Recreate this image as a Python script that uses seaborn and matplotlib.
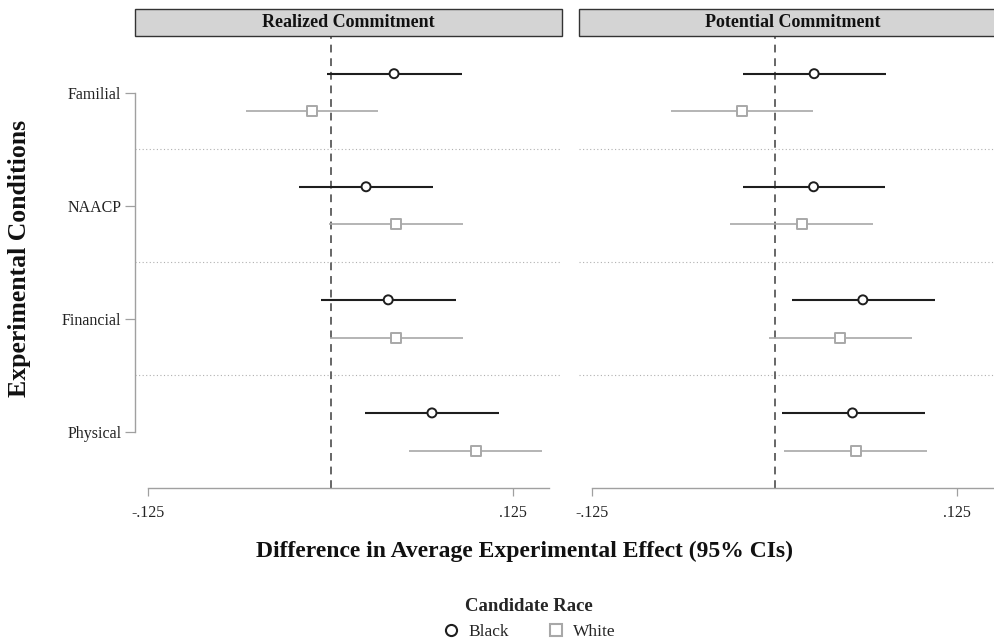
import matplotlib
matplotlib.use("Agg")
import matplotlib.pyplot as plt
import matplotlib.patches as mpatches
from matplotlib.lines import Line2D
from matplotlib.collections import PathCollection
import seaborn as sns
import pandas as pd
import numpy as np

# ---------------- data ----------------
conditions = ["Familial", "NAACP", "Financial", "Physical"]
panels = ["Realized Commitment", "Potential Commitment"]
races = ["Black", "White"]

realized_black_est = [0.0435, 0.0243, 0.0395, 0.0695]
realized_black_lo = [-0.0025, -0.0215, -0.0064, 0.0238]
realized_black_hi = [0.0898, 0.0699, 0.0857, 0.1156]
realized_white_est = [-0.0127, 0.0448, 0.0448, 0.0994]
realized_white_lo = [-0.0583, -0.0009, -0.0002, 0.0539]
realized_white_hi = [0.0327, 0.0905, 0.0905, 0.1451]

potential_black_est = [0.0271, 0.0267, 0.0605, 0.0534]
potential_black_lo = [-0.0217, -0.0217, 0.0116, 0.0048]
potential_black_hi = [0.0765, 0.0756, 0.1099, 0.1028]
potential_white_est = [-0.0226, 0.0185, 0.0450, 0.0555]
potential_white_lo = [-0.0713, -0.0306, -0.0041, 0.0066]
potential_white_hi = [0.0262, 0.0676, 0.0939, 0.1044]

xtick_vals = [-0.125, 0.125]
xtick_labels = ["-.125", ".125"]

series = {
    ("Realized Commitment", "Black"): (realized_black_est, realized_black_lo, realized_black_hi),
    ("Realized Commitment", "White"): (realized_white_est, realized_white_lo, realized_white_hi),
    ("Potential Commitment", "Black"): (potential_black_est, potential_black_lo, potential_black_hi),
    ("Potential Commitment", "White"): (potential_white_est, potential_white_lo, potential_white_hi),
}
rows = []
for (panel, race), (est, lo, hi) in series.items():
    for i, c in enumerate(conditions):
        rows.append(dict(panel=panel, race=race, condition=c, est=est[i], lo=lo[i], hi=hi[i]))
df = pd.DataFrame(rows)
offset = {"Black": -1 / 6, "White": 1 / 6}
df["ypos"] = df["condition"].map({c: i for i, c in enumerate(conditions)}) + df["race"].map(offset)

# ---------------- style ----------------
sns.set_theme(style="white")
serif = ["Liberation Serif", "DejaVu Serif"]
plt.rcParams["font.family"] = serif

colors = {"Black": "#1e1e1e", "White": "#a8a8a8"}
markers = {"Black": "o", "White": "s"}
msizes = {"Black": 42, "White": 52}
lws = {"Black": 1.5, "White": 1.2}
axis_gray = "#a0a0a0"

W, H = 995, 642
fig = plt.figure(figsize=(W / 100, H / 100), dpi=100)

def fx(px):
    return px / W

def fy(py):
    return 1 - py / H

ax_left = [135.3, 579.3]
ax_w = 426.4
ax_top, ax_bot = 36.0, 488.3

for k, panel in enumerate(panels):
    ax = fig.add_axes([fx(ax_left[k]), fy(ax_bot), ax_w / W, (ax_bot - ax_top) / H])
    sub = df[df.panel == panel]

    # separators
    for s in [0.5, 1.5, 2.5]:
        ax.axhline(s, color="#b0b0b0", lw=0.8, ls=(0, (1, 2.2)), zorder=1)
    # zero line
    ax.axvline(0, color="#666666", lw=1.4, ls=(0, (4, 3)), zorder=1)

    for race in races:
        r = sub[sub.race == race]
        ax.hlines(r["ypos"], r["lo"], r["hi"], color=colors[race], lw=lws[race], zorder=2)
    sns.scatterplot(data=sub, x="est", y="ypos", hue="race", style="race", size="race",
                    palette=colors, markers=markers, sizes=msizes,
                    hue_order=races, style_order=races, size_order=races,
                    linewidth=1.4, ax=ax, legend=False, zorder=3)
    for coll in ax.collections:
        if isinstance(coll, PathCollection) and len(coll.get_offsets()):
            fc = coll.get_facecolors()
            if len(fc):
                coll.set_edgecolors(fc)
                coll.set_facecolors("white")

    ax.set_xlim(-0.134, 0.1585)
    ax.set_ylim(3.5, -0.5)
    ax.set_xlabel("")
    ax.set_ylabel("")
    ax.set_xticks(xtick_vals)
    ax.set_xticklabels(xtick_labels, fontsize=11.5, color="#222222")
    ax.tick_params(axis="x", direction="out", length=6, width=0.9, color=axis_gray, pad=6, bottom=True)
    for sp in ["top", "right"]:
        ax.spines[sp].set_visible(False)
    ax.spines["bottom"].set_color(axis_gray)
    ax.spines["bottom"].set_linewidth(1.0)
    ax.spines["bottom"].set_bounds(-0.125, 0.15)
    if k == 0:
        ax.set_yticks(range(len(conditions)))
        ax.set_yticklabels(conditions, fontsize=11.5, color="#222222")
        ax.tick_params(axis="y", direction="out", length=7, width=0.9, color=axis_gray, pad=3, left=True)
        ax.spines["left"].set_color(axis_gray)
        ax.spines["left"].set_linewidth(1.0)
        ax.spines["left"].set_bounds(0, 3)
        strip_w = 1.0
    else:
        ax.set_yticks([])
        ax.spines["left"].set_visible(False)
        strip_w = 1.05

    # strip header
    strip_h = (35.7 - 9.0) / (ax_bot - ax_top)
    rect = mpatches.Rectangle((0, 1.0), strip_w, strip_h, transform=ax.transAxes,
                              facecolor="#d4d4d4", edgecolor="#333333", lw=1.0, clip_on=False, zorder=5)
    ax.add_patch(rect)
    ax.text(0.5, 1.0 + strip_h / 2, panel, transform=ax.transAxes, ha="center", va="center",
            fontsize=13, fontweight="bold", color="#111111", zorder=6)

fig.text(fx(20), fy(258), "Experimental Conditions", rotation=90, ha="center", va="center",
         fontsize=18.5, fontweight="bold", color="#111111")
fig.text(fx(525), fy(551), "Difference in Average Experimental Effect (95% CIs)", ha="center",
         va="center", fontsize=17, fontweight="bold", color="#111111")

handles = [Line2D([], [], ls="none", marker=markers[r], markersize=8, markerfacecolor="white",
                  markeredgecolor=colors[r], markeredgewidth=1.5) for r in races]
leg = fig.legend(handles, races, loc="center", bbox_to_anchor=(fx(529), fy(619)), ncol=2,
                 frameon=False, title="Candidate Race", fontsize=12.5, handletextpad=0.5,
                 columnspacing=2.2, handlelength=1.0)
leg.get_title().set_fontweight("bold")
leg.get_title().set_fontsize(13.5)

fig.savefig("out.png", dpi=100)
